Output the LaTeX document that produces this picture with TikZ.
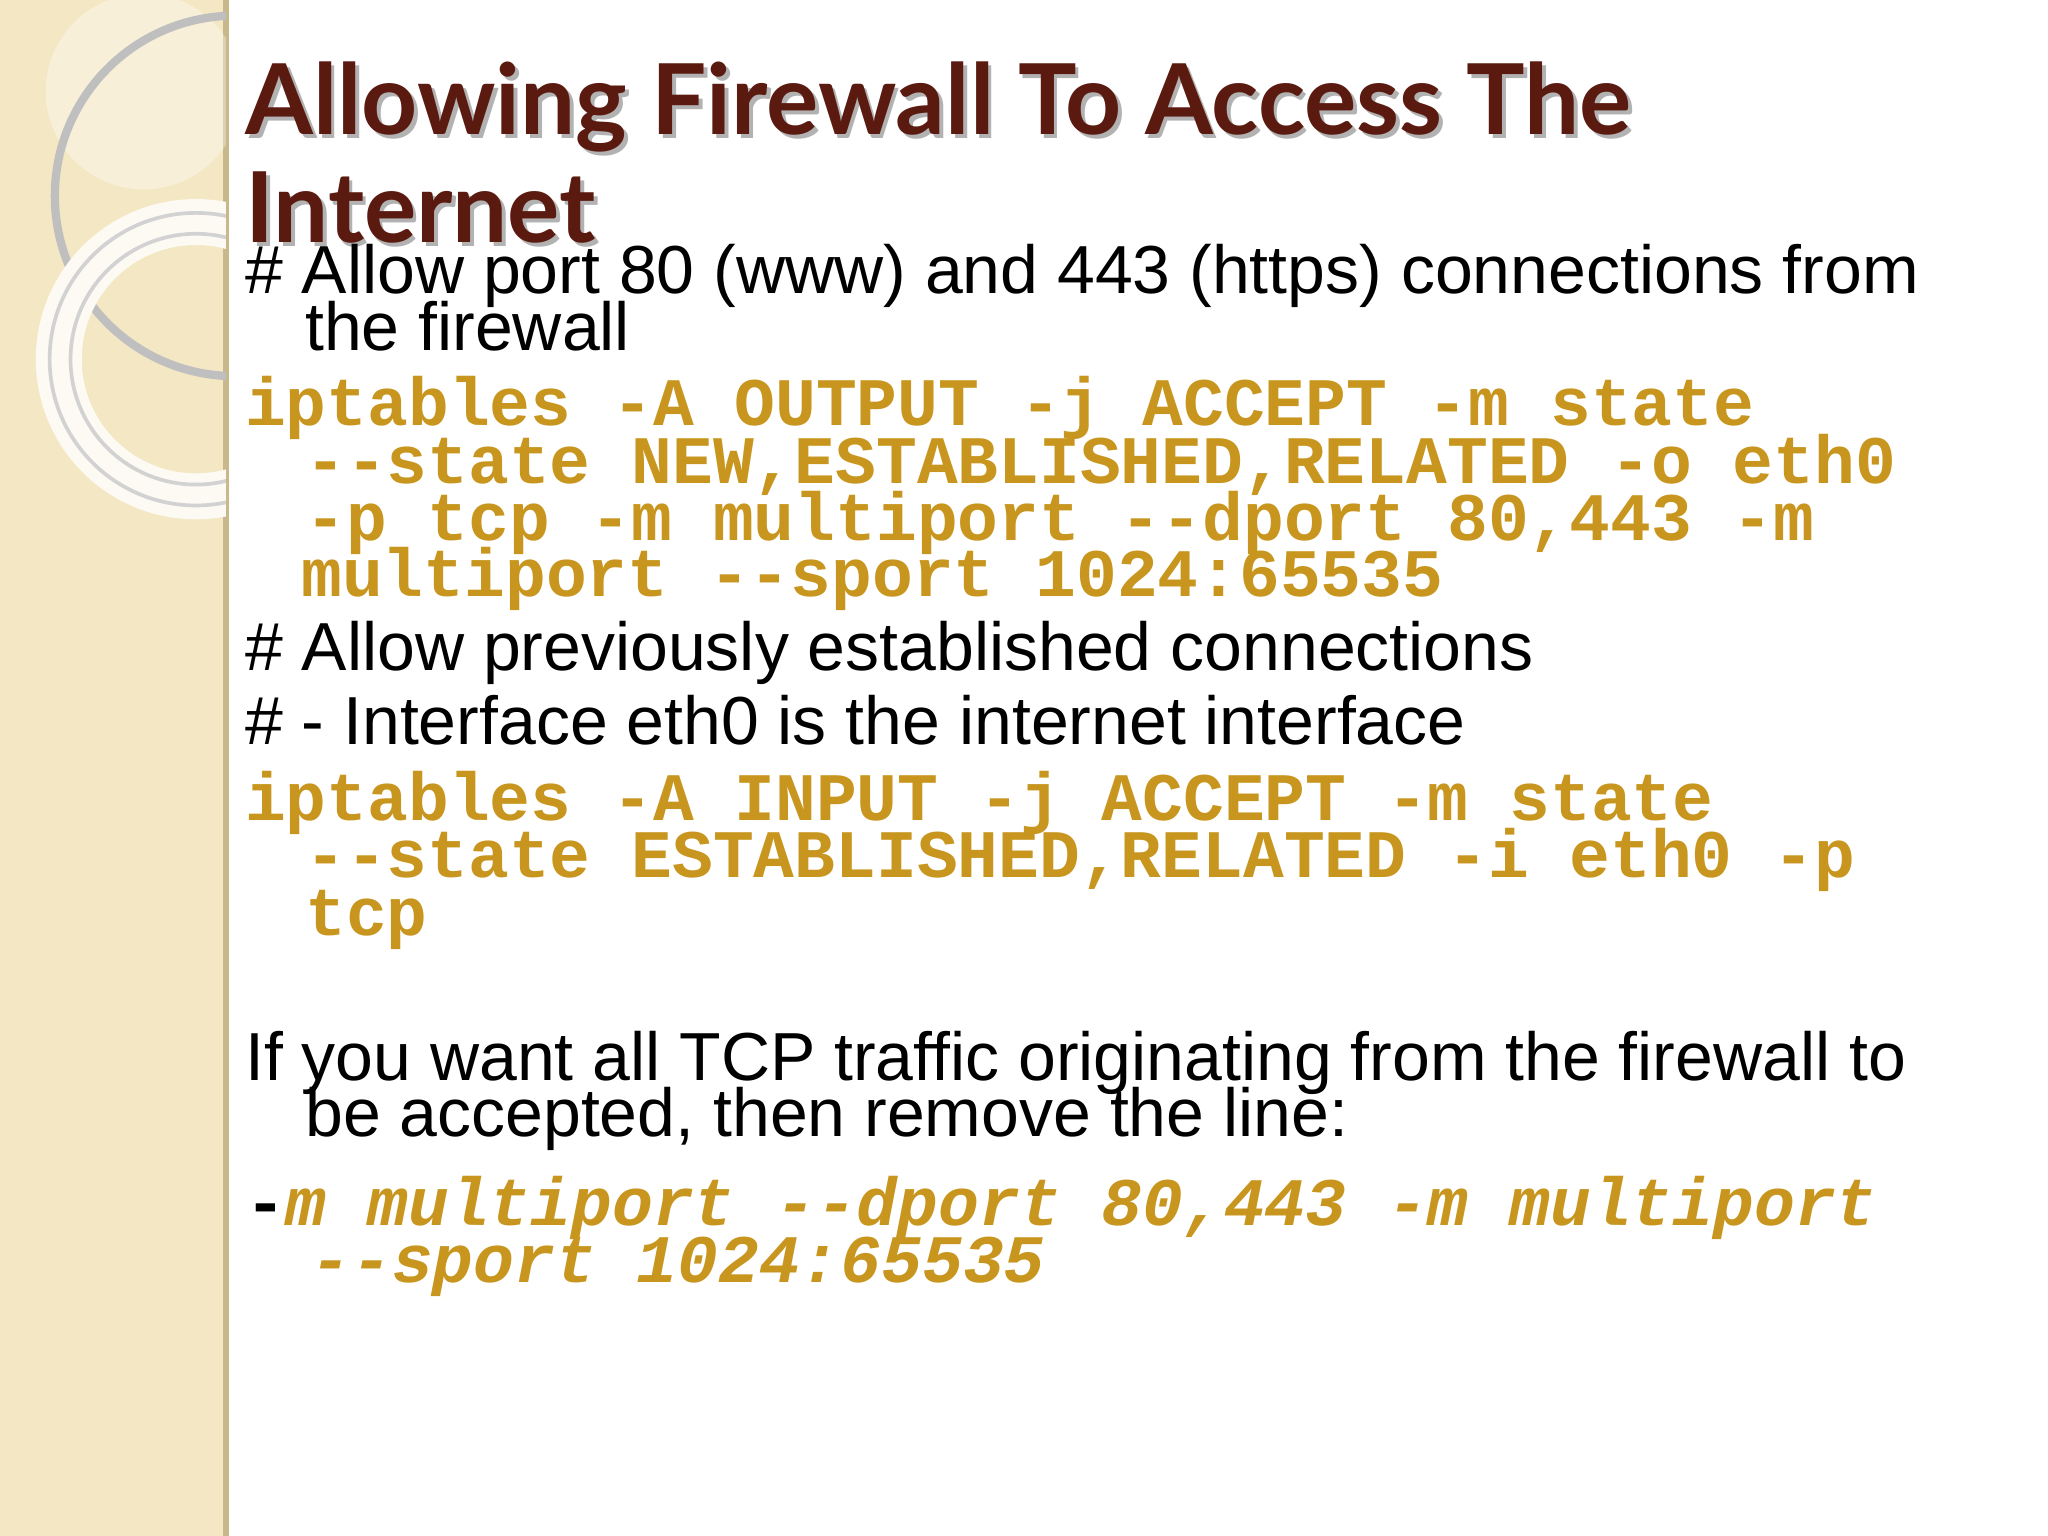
\documentclass[tikz,border=0pt]{standalone}
\usepackage{fontspec}
\setmainfont{Liberation Sans}
\newfontfamily\monob{Liberation Mono}[BoldFont={* Bold}]
\newfontfamily\titlef{Lato}
\definecolor{gold}{HTML}{C8961E}
\definecolor{titlebrown}{HTML}{5A1A10}
\definecolor{strip}{HTML}{F3E7C4}
\definecolor{stripline}{HTML}{C9B88A}
\begin{document}
\begin{tikzpicture}[x=0.01cm,y=-0.01cm,
  body/.style={anchor=base west,inner sep=0pt,font=\fontsize{14.8}{17}\selectfont},
  code/.style={anchor=base west,inner sep=0pt,text=gold,font=\monob\bfseries\fontsize{14.8}{17}\selectfont},
  icode/.style={anchor=base west,inner sep=0pt,text=gold,font=\monob\bfseries\itshape\fontsize{14.8}{17}\selectfont},
  ttl/.style={anchor=base west,inner sep=0pt,text=titlebrown,font=\titlef\bfseries\fontsize{21.3}{24}\selectfont}]
\useasboundingbox (0,0) rectangle (1568,1176);
\fill[white] (0,0) rectangle (1568,1176);
\fill[strip] (0,0) rectangle (173,1176);
\draw[stripline,line width=1.5pt] (173,0) -- (173,1176);
\begin{scope}
\clip (0,0) rectangle (173,1176);
\fill[white,opacity=0.35] (110,70) circle (75);
\draw[gray!50,line width=1.8pt] (180,150) circle (138);
\draw[white!80!strip,line width=10pt] (150,275) circle (105);
\draw[gray!35,line width=0.8pt] (150,275) circle (112);
\draw[gray!35,line width=0.8pt] (150,275) circle (96);
\end{scope}
% title
\foreach \dx/\col in {3/gray!60, 0/titlebrown}{
\node[ttl,text=\col] (t1\dx) at (187+\dx,103+\dx) {Allowing Firewall To Access The};
\node[ttl,text=\col] (t2\dx) at (187+\dx,186+\dx) {Internet};}
\node[body] (b1) at (187,225) {\# Allow port 80 (www) and 443 (https) connections from};
\node[body] (b2) at (233,268) {the firewall};
\node[code] (c1) at (187,326) {iptables -A OUTPUT -j ACCEPT -m state};
\node[code] (c2) at (233,370) {--state NEW,ESTABLISHED,RELATED -o eth0};
\node[code] (c3) at (233,414) {-p tcp -m multiport --dport 80,443 -m};
\node[code] (c4) at (230,457) {multiport --sport 1024:65535};
\node[body] (b3) at (187,513) {\# Allow previously established connections};
\node[body] (b4) at (187,570) {\# - Interface eth0 is the internet interface};
\node[code] (c5) at (187,628) {iptables -A INPUT -j ACCEPT -m state};
\node[code] (c6) at (233,672) {--state ESTABLISHED,RELATED -i eth0 -p};
\node[code] (c7) at (233,716) {tcp};
\node[body] (b5) at (187,827) {If you want all TCP traffic originating from the firewall to};
\node[body] (b6) at (233,870) {be accepted, then remove the line:};
\node[icode] (i1) at (187,938) {{\upshape\color{black}-}m multiport --dport 80,443 -m multiport};
\node[icode] (i2) at (237,982) {--sport 1024:65535};
\end{tikzpicture}
\end{document}
